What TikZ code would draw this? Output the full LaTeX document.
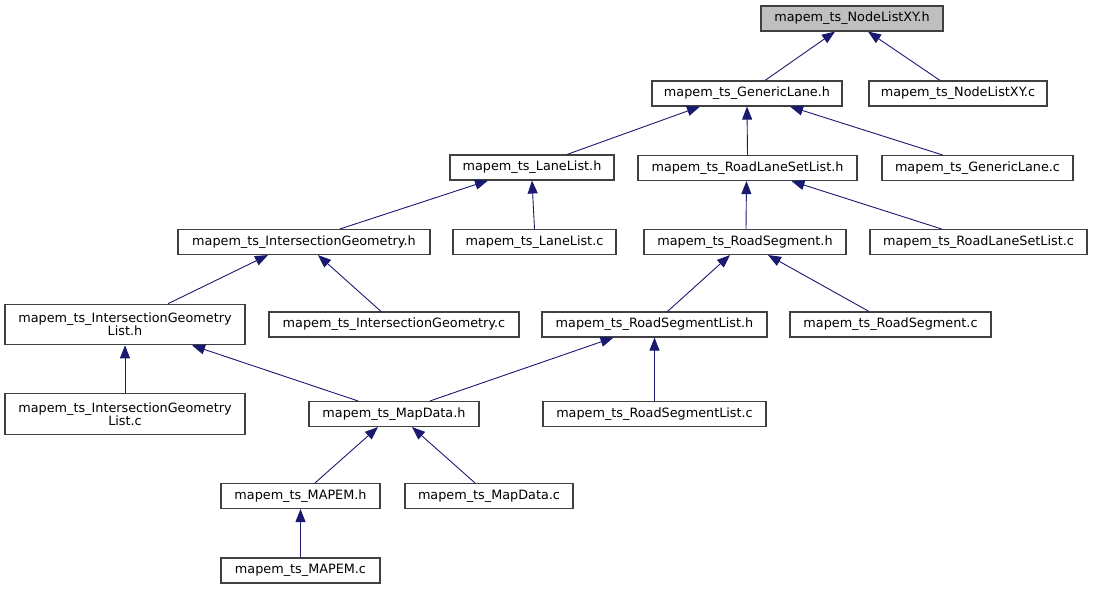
\documentclass[tikz,border=0pt]{standalone}
\usepackage{fontspec}
\setmainfont{DejaVu Sans}
\usetikzlibrary{arrows.meta}
\definecolor{edgecol}{HTML}{191970}
\definecolor{boxcol}{HTML}{404040}
\definecolor{rootfill}{HTML}{BFBFBF}
\begin{document}
\begin{tikzpicture}[x=1pt,y=-1pt,
  box/.style={draw=boxcol, line width=1.1pt, fill=white, inner sep=0pt, align=center,
    font=\fontsize{12.8}{13.4}\selectfont, minimum height=25pt},
  tall/.style={minimum height=40.5pt},
  edge/.style={draw=edgecol, line width=0.9pt, {Triangle[length=13pt,width=10pt]}-}
]
\useasboundingbox (0,0) rectangle (1093,589);
% row 1
\node[box, fill=rootfill, minimum width=182pt] (NLh) at (852,18.5) {mapem\_ts\_NodeListXY.h};
% row 2
\node[box, minimum width=190pt] (GLh) at (747,93.5) {mapem\_ts\_GenericLane.h};
\node[box, minimum width=178pt] (NLc) at (958,93.5) {mapem\_ts\_NodeListXY.c};
% row 3
\node[box, minimum width=164pt] (LLh) at (532,167.5) {mapem\_ts\_LaneList.h};
\node[box, minimum width=219pt] (RLSh) at (747.5,168) {mapem\_ts\_RoadLaneSetList.h};
\node[box, minimum width=191pt] (GLc) at (977.5,168) {mapem\_ts\_GenericLane.c};
% row 4
\node[box, minimum width=252pt] (IGh) at (304,242) {mapem\_ts\_IntersectionGeometry.h};
\node[box, minimum width=163pt] (LLc) at (534.5,242) {mapem\_ts\_LaneList.c};
\node[box, minimum width=202pt] (RSh) at (745,242) {mapem\_ts\_RoadSegment.h};
\node[box, minimum width=217pt] (RLSc) at (978.5,242) {mapem\_ts\_RoadLaneSetList.c};
% row 5
\node[box, tall, minimum width=240pt] (IGLh) at (125,324.5) {mapem\_ts\_IntersectionGeometry\\List.h};
\node[box, minimum width=250pt] (IGc) at (394,324.5) {mapem\_ts\_IntersectionGeometry.c};
\node[box, minimum width=225pt] (RSLh) at (654.5,324.5) {mapem\_ts\_RoadSegmentList.h};
\node[box, minimum width=201pt] (RSc) at (890.5,324.5) {mapem\_ts\_RoadSegment.c};
% row 6
\node[box, tall, minimum width=240pt] (IGLc) at (125,414) {mapem\_ts\_IntersectionGeometry\\List.c};
\node[box, minimum width=170pt] (MDh) at (394,414) {mapem\_ts\_MapData.h};
\node[box, minimum width=223pt] (RSLc) at (654.5,414) {mapem\_ts\_RoadSegmentList.c};
% row 7
\node[box, minimum width=159pt] (MAh) at (300.5,496) {mapem\_ts\_MAPEM.h};
\node[box, minimum width=168pt] (MDc) at (489,496) {mapem\_ts\_MapData.c};
% row 8
\node[box, minimum width=159pt] (MAc) at (300.5,570.5) {mapem\_ts\_MAPEM.c};
% edges (arrow at the included file)
\draw[edge] ([xshift=-17pt]NLh.south) -- ([xshift=18pt]GLh.north);
\draw[edge] ([xshift=16pt]NLh.south) -- ([xshift=-18pt]NLc.north);
\draw[edge] ([xshift=-47pt]GLh.south) -- ([xshift=35pt]LLh.north);
\draw[edge] (GLh.south) -- (RLSh.north);
\draw[edge] ([xshift=43pt]GLh.south) -- ([xshift=-35pt]GLc.north);
\draw[edge] ([xshift=-44pt]LLh.south) -- ([xshift=36pt]IGh.north);
\draw[edge] (LLh.south) -- (LLc.north);
\draw[edge] ([xshift=-1pt]RLSh.south) -- ([xshift=1pt]RSh.north);
\draw[edge] ([xshift=44pt]RLSh.south) -- ([xshift=-37pt]RLSc.north);
\draw[edge] ([xshift=-36pt]IGh.south) -- ([xshift=43pt]IGLh.north);
\draw[edge] ([xshift=14pt]IGh.south) -- ([xshift=-13pt]IGc.north);
\draw[edge] ([xshift=-15pt]RSh.south) -- ([xshift=13pt]RSLh.north);
\draw[edge] ([xshift=23pt]RSh.south) -- ([xshift=-21.5pt]RSc.north);
\draw[edge] (IGLh.south) -- (IGLc.north);
\draw[edge] ([xshift=67pt]IGLh.south) -- ([xshift=-36pt]MDh.north);
\draw[edge] ([xshift=-41pt]RSLh.south) -- ([xshift=36pt]MDh.north);
\draw[edge] (RSLh.south) -- (RSLc.north);
\draw[edge] ([xshift=-16pt]MDh.south) -- ([xshift=14.5pt]MAh.north);
\draw[edge] ([xshift=18pt]MDh.south) -- ([xshift=-14pt]MDc.north);
\draw[edge] (MAh.south) -- (MAc.north);
\end{tikzpicture}
\end{document}
